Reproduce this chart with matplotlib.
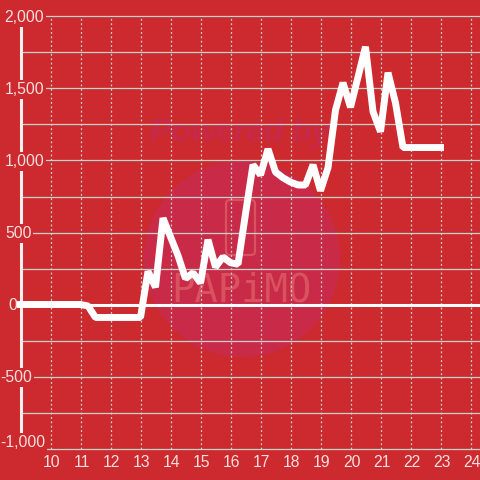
#%% libs
import matplotlib
matplotlib.use('Agg')
import matplotlib.pyplot as plt
from matplotlib.patches import Circle, FancyBboxPatch
from matplotlib.transforms import ScaledTranslation

#%% data, one point every 15 min from 9:00
hours = [9, 10, 11, 11.25, 11.5, 11.75, 12, 12.25, 12.5, 12.75, 13, 13.25, 13.5, 13.75,
         14, 14.25, 14.5, 14.75, 15, 15.25, 15.5, 15.75, 16, 16.25, 16.5, 16.75,
         17, 17.25, 17.5, 17.75, 18, 18.25, 18.5, 18.75, 19, 19.25, 19.5, 19.75,
         20, 20.25, 20.5, 20.75, 21, 21.25, 21.5, 21.75, 22, 22.25, 22.5, 22.75, 23]
values = [0, 0, 0, -10, -90, -90, -90, -90, -90, -90, -90, 230, 120, 600,
          470, 340, 180, 220, 150, 450, 260, 330, 290, 280, 630, 970,
          900, 1080, 920, 880, 850, 830, 830, 970, 790, 950, 1350, 1540,
          1370, 1580, 1790, 1340, 1200, 1610, 1400, 1090, 1090, 1090, 1090, 1090, 1090]
x_ticks = list(range(10, 25))
y_grid = list(range(-1000, 2001, 250))
y_ticks = [2000, 1500, 1000, 500, 0, -500, -1000]
y_labels = ['2,000', '1,500', '1,000', '500', '0', '-500', '-1,000']

#%% colors
bg = '#cc2a2e'
text_col = '#f7dfdf'
grid_col = '#c9d3cd'
W = 480

plt.rcParams['font.family'] = ['Liberation Sans', 'DejaVu Sans']
fig = plt.figure(figsize=(4.8, 4.8), dpi=100, facecolor=bg)

#%% watermark in pixel coords, behind the chart
wm = fig.add_axes([0, 0, 1, 1], zorder=0)
wm.set_xlim(0, W)
wm.set_ylim(W, 0)
wm.axis('off')
wm.add_patch(Circle((242, 259), 98, color='#c92a48', lw=0))
wm.add_patch(FancyBboxPatch((226, 200), 29, 55, boxstyle='round,pad=0,rounding_size=4',
                            fc='none', ec='#d8535f', lw=1.6))
wm.text(240, 133, 'Powered by', color='#c7294a', fontsize=23, fontweight='bold',
        fontstyle='italic', ha='center', va='center')
wm.text(241, 291, 'PAPiMO', color='#d8535f', fontsize=28, family='DejaVu Sans Mono',
        ha='center', va='center')

#%% chart
ax = fig.add_axes([20.5 / W, (W - 448.5) / W, 459.5 / W, 432 / W], zorder=1)
ax.patch.set_alpha(0)
ax.set_xlim(9, 9 + 459.5 / 30)
ax.set_ylim(-1000, 2000)
for side in ['top', 'right', 'bottom']:
    ax.spines[side].set_visible(False)
ax.spines['left'].set_color('#f4f0f0')
ax.spines['left'].set_linewidth(2.2)
ax.spines['left'].set_bounds(-900, 2000)
ax.set_xticks(x_ticks)
ax.set_yticks(y_ticks)
ax.set_yticklabels([])
ax.tick_params(axis='y', length=0)
ax.tick_params(axis='x', length=0, pad=5, labelsize=11.3, labelcolor=text_col)
shift = ScaledTranslation(1 / 100, 0, fig.dpi_scale_trans)
for lab in ax.get_xticklabels():
    lab.set_transform(lab.get_transform() + shift)

for y in y_grid:
    ax.axhline(y, color=grid_col, lw=0.9, zorder=1, clip_on=False)
for x in x_ticks:
    ax.axvline(x, color=grid_col, lw=0.9, ls=(0, (1.5, 2)), zorder=1)
ax.axhline(0, color='white', lw=2.2, zorder=2)

ax.plot(hours, values, color='white', lw=5, solid_joinstyle='bevel',
        solid_capstyle='projecting', clip_on=False, zorder=4)

#%% y labels sit on the axis with a red box behind them
label_x = [24.5, 24.5, 24.5, 18.5, 12.5, 16.5, 22.5]
label_dy = [-1, -1, -1, -1, -1, -1, 6]
for y, lab, lx, dy in zip(y_ticks, y_labels, label_x, label_dy):
    ax.annotate(lab, xy=(lx, y), xycoords=('figure pixels', 'data'),
                xytext=(0, dy * 0.72), textcoords='offset points',
                ha='center', va='center', fontsize=11.3, color=text_col, zorder=3,
                annotation_clip=False,
                bbox=dict(fc=bg, ec='none', boxstyle='square,pad=0.1'))

fig.savefig('out.png', dpi=100, facecolor=bg)
